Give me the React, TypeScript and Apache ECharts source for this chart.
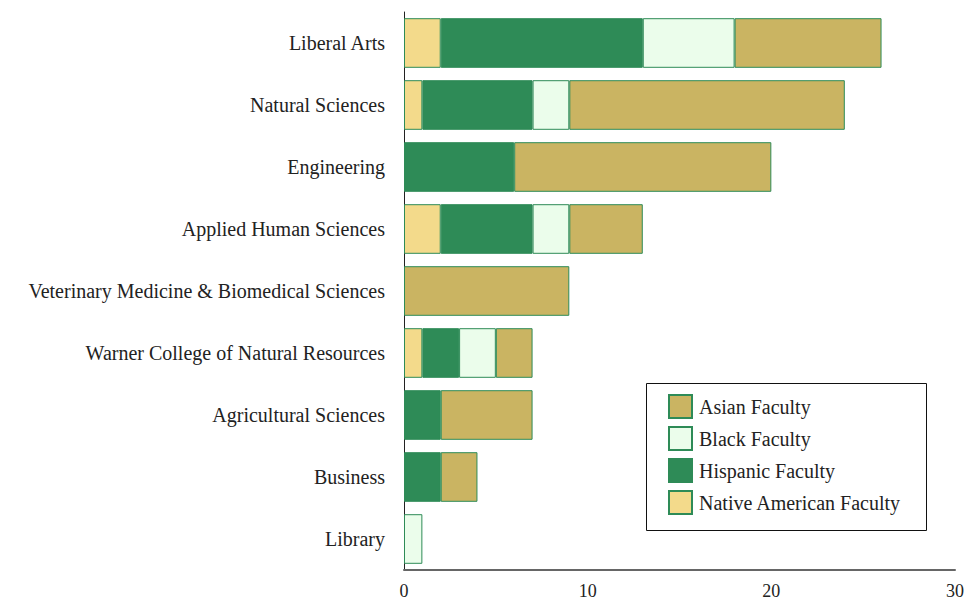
import React, { useEffect, useRef } from "react";
import * as echarts from "echarts";

const categories = [
  "Liberal Arts",
  "Natural Sciences",
  "Engineering",
  "Applied Human Sciences",
  "Veterinary Medicine & Biomedical Sciences",
  "Warner College of Natural Resources",
  "Agricultural Sciences",
  "Business",
  "Library",
];
const nativeAmerican = [2, 1, 0, 2, 0, 1, 0, 0, 0];
const hispanic = [11, 6, 6, 5, 0, 2, 2, 2, 0];
const black = [5, 2, 0, 2, 0, 2, 0, 0, 1];
const asian = [8, 15, 14, 4, 9, 2, 5, 2, 0];
const xTicks = [0, 10, 20, 30];

const FONT = "'Palatino Linotype', Palatino, 'Book Antiqua', 'Liberation Serif', serif";
const BORDER = "#2e8b57";

export default function App() {
  const ref = useRef<HTMLDivElement>(null);
  useEffect(() => {
    if (!ref.current) return;
    const chart = echarts.init(ref.current, undefined, { renderer: "svg" });
    const mk = (name: string, data: number[], color: string) => ({
      name,
      type: "bar",
      stack: "total",
      barCategoryGap: "20%",
      data: data.map((v) => (v === 0 ? null : v)),
      itemStyle: { color, borderColor: BORDER, borderWidth: 1 },
      emphasis: { disabled: true },
    });
    chart.setOption({
      animation: false,
      textStyle: { fontFamily: FONT },
      grid: { left: 404, right: 10, top: 12, bottom: 31, containLabel: false },
      xAxis: {
        type: "value",
        min: xTicks[0],
        max: xTicks[xTicks.length - 1],
        interval: 10,
        axisLine: { show: true, lineStyle: { color: "#666", width: 2 } },
        axisTick: { show: false },
        splitLine: { show: false },
        axisLabel: { fontSize: 18, color: "#222", margin: 12, fontFamily: FONT },
      },
      yAxis: {
        type: "category",
        data: categories,
        inverse: true,
        axisLine: { show: true, lineStyle: { color: "#222", width: 1 } },
        axisTick: { show: false },
        axisLabel: { fontSize: 20, color: "#222", margin: 19, fontFamily: FONT },
      },
      legend: {
        orient: "vertical",
        left: 668,
        top: 394,
        icon: "rect",
        itemWidth: 23,
        itemHeight: 23,
        itemGap: 7,
        padding: 0,
        textStyle: { fontSize: 20, color: "#222", fontFamily: FONT, padding: [0, 0, 0, 2] },
        data: ["Asian Faculty", "Black Faculty", "Hispanic Faculty", "Native American Faculty"],
        selectedMode: false,
      },
      graphic: [
        {
          type: "rect",
          shape: { x: 646.5, y: 383.5, width: 280, height: 147 },
          style: { fill: "#fff", stroke: "#111", lineWidth: 1 },
          z: -1,
        },
      ],
      series: [
        mk("Native American Faculty", nativeAmerican, "#f3da8b"),
        mk("Hispanic Faculty", hispanic, "#2e8b57"),
        mk("Black Faculty", black, "#ebfdeb"),
        mk("Asian Faculty", asian, "#cab462"),
      ],
    });
    return () => chart.dispose();
  }, []);
  return (
    <div
      ref={ref}
      style={{ position: "fixed", left: 0, top: 0, width: 967, height: 601, background: "#fff" }}
    />
  );
}
